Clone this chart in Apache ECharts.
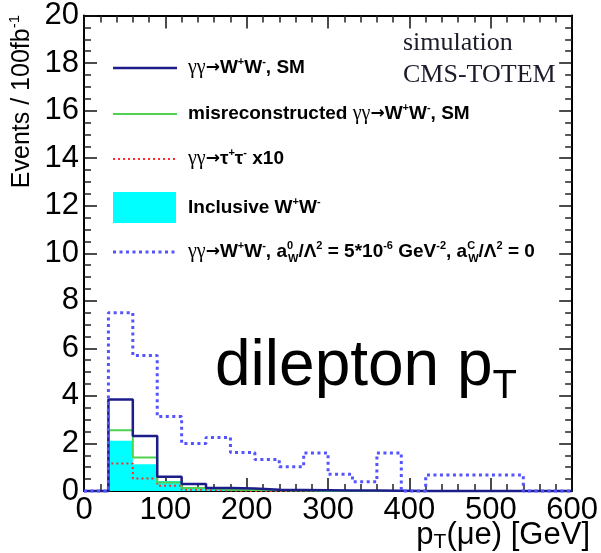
<!DOCTYPE html>
<html>
<head>
<meta charset="utf-8">
<script src="https://cdn.jsdelivr.net/npm/echarts@6/dist/echarts.min.js"></script>
<style>
  html, body { margin: 0; padding: 0; background: #fff; }
  #chart { width: 601px; height: 553px; }
</style>
</head>
<body>
<div id="chart"></div>
<script>
// Histogram bin edges in GeV (30 GeV bins from 0 to 600)
const binEdges = [0, 30, 60, 90, 120, 150, 180, 210, 240, 270, 300,
                  330, 360, 390, 420, 450, 480, 510, 540, 570, 600];

// Events / 100 fb^-1 per bin
const smWW        = [0, 3.85, 2.31, 0.60, 0.29, 0.13, 0.11, 0.05, 0.04, 0.03, 0.02, 0.02, 0.01, 0, 0, 0, 0, 0, 0, 0];
const misrecoWW   = [0, 2.56, 1.41, 0.36, 0.13, 0.05, 0.04, 0.03, 0.02, 0, 0, 0, 0, 0, 0, 0, 0, 0, 0, 0];
const tautauX10   = [0, 1.16, 0.53, 0.22, 0.05, 0.02, 0, 0, 0, 0, 0, 0, 0, 0, 0, 0, 0, 0, 0, 0];
const inclusiveWW = [0, 2.11, 1.13, 0.42, 0.10, 0.03, 0, 0, 0, 0, 0, 0, 0, 0, 0, 0, 0, 0, 0, 0];
const anomalousWW = [0, 7.5, 5.7, 3.13, 2.0, 2.25, 1.62, 1.32, 1.02, 1.6, 0.7, 0.39, 1.6, 0, 0.67, 0.67, 0.67, 0.67, 0, 0];

// Axis ranges and major tick steps
const xRange = [0, 600], xStep = 100;
const yRange = [0, 20],  yStep = 2;

const SANS = '"Liberation Sans", Arial, Helvetica, sans-serif';
const SERIF = '"Liberation Serif", "Times New Roman", serif';

// Turn bin contents into the outline of a step histogram
function stepPoints(values) {
  const pts = [];
  values.forEach((v, i) => {
    pts.push([binEdges[i], v]);
    pts.push([binEdges[i + 1], v]);
  });
  return pts;
}

function frameAxis(kind, position, showLabels) {
  const isX = kind === 'x';
  return {
    type: 'value',
    position: position,
    min: isX ? xRange[0] : yRange[0],
    max: isX ? xRange[1] : yRange[1],
    interval: isX ? xStep : yStep,
    axisLine: { show: true, onZero: false, lineStyle: { color: '#000', width: 2 } },
    axisTick: { show: true, inside: true, length: 13, lineStyle: { color: '#111', width: 1.5 } },
    minorTick: { show: true, splitNumber: isX ? 5 : 4, length: 7, lineStyle: { color: '#222', width: 1.5 } },
    minorSplitLine: { show: false },
    splitLine: { show: false },
    axisLabel: {
      show: showLabels,
      color: '#000',
      fontFamily: SANS,
      fontSize: 31,
      margin: isX ? 4 : 5
    }
  };
}

function histLine(name, values, color, width, dash, z) {
  return {
    type: 'line',
    name: name,
    data: stepPoints(values),
    symbol: 'none',
    clip: false,
    z: z,
    lineStyle: { color: color, width: width, type: dash || 'solid', cap: 'butt' }
  };
}

const chart = echarts.init(document.getElementById('chart'), null, { renderer: 'canvas' });

const txt = '#161616';
const legRich = {
  g:  { fontFamily: SERIF, fontSize: 20, color: '#3a2a40', lineHeight: 24 },
  a:  { fontFamily: '"DejaVu Sans", sans-serif', fontWeight: 'bold', fontSize: 17, color: txt, lineHeight: 24 },
  b:  { fontFamily: SANS, fontWeight: 'bold', fontSize: 19, color: txt, lineHeight: 24 },
  s:  { fontFamily: SANS, fontWeight: 'bold', fontSize: 11, color: txt, lineHeight: 11, verticalAlign: 'top' },
  s0: { fontFamily: SANS, fontWeight: 'bold', fontSize: 11, color: txt, lineHeight: 11, verticalAlign: 'top', width: 1 },
  u:  { fontFamily: SANS, fontWeight: 'bold', fontSize: 11, color: txt, lineHeight: 11, verticalAlign: 'bottom' }
};

function legendText(y, text) {
  return {
    type: 'text', x: 188, y: y, z: 10,
    style: { text: text, rich: legRich, align: 'left', verticalAlign: 'middle' }
  };
}

chart.setOption({
  animation: false,
  backgroundColor: '#fff',
  grid: { left: 84, right: 28, top: 15, bottom: 62, containLabel: false },
  xAxis: [frameAxis('x', 'bottom', true), frameAxis('x', 'top', false)],
  yAxis: [frameAxis('y', 'left', true), frameAxis('y', 'right', false)],
  series: [
    {
      type: 'line',
      name: 'Inclusive W+W-',
      data: stepPoints(inclusiveWW),
      symbol: 'none',
      clip: false,
      z: 1,
      lineStyle: { width: 0, opacity: 0 },
      areaStyle: { color: '#00ffff', opacity: 1 }
    },
    histLine('tautau x10', tautauX10, '#ff2a2a', 2, [2, 3], 3),
    histLine('misreconstructed', misrecoWW, '#4fd24f', 2, 'solid', 4),
    histLine('SM', smWW, '#1c1c8a', 2.5, 'solid', 5),
    histLine('anomalous', anomalousWW, '#5454ff', 3, [3, 3.5], 6)
  ],
  graphic: [
    // legend samples
    { type: 'line', shape: { x1: 113, y1: 68, x2: 177, y2: 68 }, style: { stroke: '#1c1c8a', lineWidth: 2.5 } },
    { type: 'line', shape: { x1: 113, y1: 114, x2: 177, y2: 114 }, style: { stroke: '#4fd24f', lineWidth: 2 } },
    { type: 'line', shape: { x1: 113, y1: 159, x2: 177, y2: 159 }, style: { stroke: '#ff2a2a', lineWidth: 2, lineDash: [2, 3] } },
    { type: 'rect', shape: { x: 113, y: 192, width: 63, height: 31 }, style: { fill: '#00ffff' } },
    { type: 'line', shape: { x1: 113, y1: 252, x2: 177, y2: 252 }, style: { stroke: '#5454ff', lineWidth: 3, lineDash: [3, 3.5] } },

    // legend labels
    legendText(68, '{g|γγ}{a|→}{b|W}{s|+}{b|W}{s|-}{b|, SM}'),
    legendText(114, '{b|misreconstructed }{g|γγ}{a|→}{b|W}{s|+}{b|W}{s|-}{b|, SM}'),
    legendText(159, '{g|γγ}{a|→}{b|τ}{s|+}{b|τ}{s|-}{b| x10}'),
    legendText(208, '{b|Inclusive W}{s|+}{b|W}{s|-}'),
    legendText(252, '{g|γγ}{a|→}{b|W}{s|+}{b|W}{s|-}{b|, a}{s0|0}{u|W}{b|/Λ}{s|2}{b| = 5*10}{s|-6}{b| GeV}{s|-2}{b|, a}{s0|C}{u|W}{b|/Λ}{s|2}{b| = 0}'),

    // simulation tag
    { type: 'text', x: 403, y: 43, style: { text: 'simulation', fontFamily: SERIF, fontSize: 26, fill: '#1e1a2a', align: 'left', verticalAlign: 'middle' } },
    { type: 'text', x: 403, y: 75, style: { text: 'CMS-TOTEM', fontFamily: SERIF, fontSize: 26, fill: '#1e1a2a', align: 'left', verticalAlign: 'middle' } },

    // panel caption
    {
      type: 'text', x: 215, y: 367,
      style: {
        text: '{m|dilepton p}{t|T}', align: 'left', verticalAlign: 'middle',
        rich: {
          m: { fontFamily: SANS, fontSize: 64, color: '#000', lineHeight: 80 },
          t: { fontFamily: SANS, fontSize: 40, color: '#000', lineHeight: 44, verticalAlign: 'bottom' }
        }
      }
    },

    // axis titles
    {
      type: 'text', x: 22, y: 15, rotation: Math.PI / 2,
      style: {
        text: '{a|Events / 100fb}{s|-1}', align: 'right', verticalAlign: 'middle',
        rich: {
          a: { fontFamily: SANS, fontSize: 25, color: '#000', lineHeight: 30 },
          s: { fontFamily: SANS, fontSize: 15, color: '#000', lineHeight: 15, verticalAlign: 'top' }
        }
      }
    },
    {
      type: 'text', x: 590, y: 535,
      style: {
        text: '{a|p}{t|T}{a|(μe) [GeV]}', align: 'right', verticalAlign: 'middle',
        rich: {
          a: { fontFamily: SANS, fontSize: 31, color: '#000', lineHeight: 35 },
          t: { fontFamily: SANS, fontSize: 21, color: '#000', lineHeight: 21, verticalAlign: 'bottom' }
        }
      }
    }
  ]
});
</script>
</body>
</html>
